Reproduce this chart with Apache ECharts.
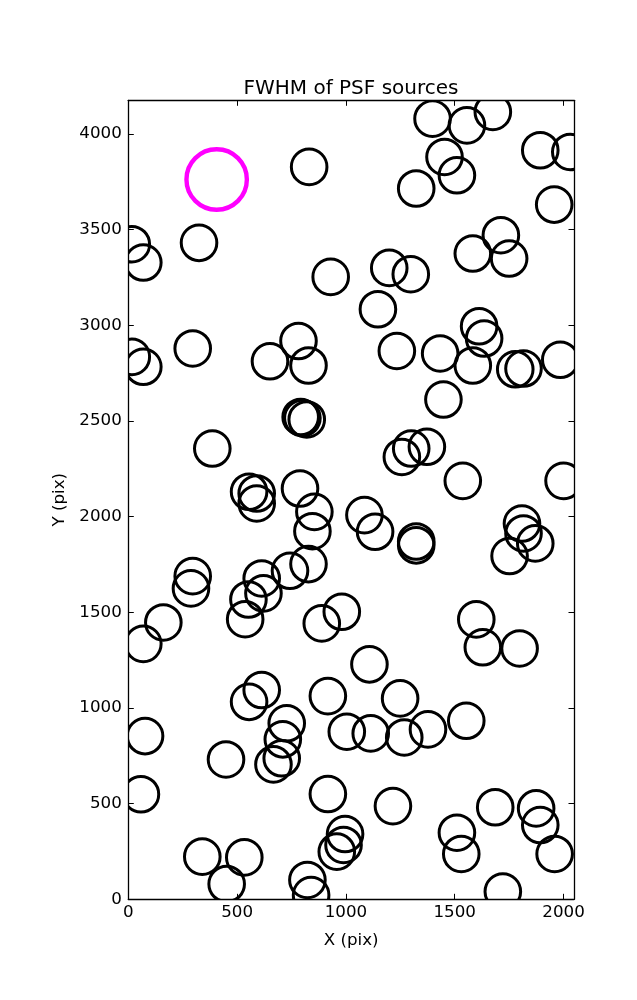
<!DOCTYPE html>
<html>
<head>
<meta charset="utf-8">
<script src="https://cdn.jsdelivr.net/npm/echarts@6/dist/echarts.min.js"></script>
<style>html,body{margin:0;padding:0;background:#fff;}#chart{width:637px;height:1000px;}</style>
</head>
<body>
<div id="chart"></div>
<script>
const title = 'FWHM of PSF sources';
const xLabel = 'X (pix)';
const yLabel = 'Y (pix)';
const xTicks = [0, 500, 1000, 1500, 2000];
const yTicks = [0, 500, 1000, 1500, 2000, 2500, 3000, 3500, 4000];
const xMax = 2048;
const yMax = 4176;

const srcX = [1398,1556,1675,1453,1510,1323,1893,2031,1957,831,16,69,325,930,1712,1583,1750,1199,1298,1147,
  1612,1635,782,296,16,69,651,828,1234,1433,1583,1778,1816,1985,1448,792,800,820,386,1257,1300,1372,1537,2000,
  555,590,590,789,855,846,1085,1134,1323,1323,1809,1816,1870,1752,296,288,613,621,552,537,743,828,981,889,161,69,
  1599,1629,1798,1108,613,555,917,1249,728,710,705,667,449,77,1004,1114,1268,1377,1553,58,917,1216,1686,1874,1893,
  996,989,958,1510,1530,1959,340,533,452,823,840,1721];
const srcY = [4080,4045,4115,3880,3784,3715,3915,3906,3631,3828,3424,3328,3431,3253,3471,3375,3349,3300,3267,3084,
  2995,2931,2918,2879,2835,2783,2812,2790,2866,2853,2790,2770,2774,2820,2612,2521,2515,2508,2356,2312,2356,2365,2187,2187,
  2130,2121,2069,2147,2025,1924,2008,1921,1870,1850,1964,1912,1860,1794,1689,1625,1677,1599,1567,1464,1717,1752,1503,1442,1447,1335,
  1463,1317,1311,1228,1094,1032,1062,1050,920,836,737,705,731,853,876,867,846,888,933,549,550,487,481,475,388,
  341,284,249,348,237,237,223,219,80,101,22,40];
const refX = [406];
const refY = [3762];

const font = 'DejaVu Sans';
const chart = echarts.init(document.getElementById('chart'), null, {renderer: 'canvas'});

function ring(r, color, lw) {
  return function (params, api) {
    const p = api.coord([api.value(0), api.value(1)]);
    return {type: 'circle', shape: {cx: p[0], cy: p[1], r: r},
      style: {fill: 'none', stroke: color, lineWidth: lw}};
  };
}

const plain = v => String(v);

const axisCommon = {
  type: 'value', min: 0, interval: 500, splitLine: {show: false},
  axisLine: {show: true, onZero: false, lineStyle: {color: '#000', width: 1.3}},
  axisTick: {show: true, inside: true, length: 5.5, lineStyle: {color: '#000', width: 1}},
  z: 10
};

chart.setOption({
  animation: false,
  backgroundColor: '#fff',
  title: {text: title, left: 346, top: 74, textAlign: 'center',
    textStyle: {fontFamily: font, fontSize: 20, fontWeight: 'normal', color: '#000'}},
  grid: {left: 128.3, right: 63, top: 100.3, bottom: 100.7},
  xAxis: [
    Object.assign({}, axisCommon, {position: 'bottom', max: xMax,
      name: xLabel, nameLocation: 'middle', nameGap: 33,
      nameTextStyle: {fontFamily: font, fontSize: 16.7, color: '#000'},
      axisLabel: {show: true, margin: 5, fontFamily: font, fontSize: 16.7, color: '#000',
        showMaxLabel: false, formatter: plain}}),
    Object.assign({}, axisCommon, {position: 'top', max: xMax, axisLabel: {show: false}})
  ],
  yAxis: [
    Object.assign({}, axisCommon, {position: 'left', max: yMax,
      name: yLabel, nameLocation: 'middle', nameGap: 52,
      nameTextStyle: {fontFamily: font, fontSize: 16.7, color: '#000'},
      axisLabel: {show: true, margin: 6.5, fontFamily: font, fontSize: 16.7, color: '#000',
        showMaxLabel: false, formatter: plain}}),
    Object.assign({}, axisCommon, {position: 'right', max: yMax, axisLabel: {show: false}})
  ],
  series: [
    {type: 'custom', clip: true, xAxisIndex: 0, yAxisIndex: 0,
      data: srcX.map((x, i) => [x, srcY[i]]), renderItem: ring(17.8, '#000', 3)},
    {type: 'custom', clip: true, xAxisIndex: 0, yAxisIndex: 0,
      data: refX.map((x, i) => [x, refY[i]]), renderItem: ring(30.2, '#ff00ff', 4.4)}
  ]
});
</script>
</body>
</html>
